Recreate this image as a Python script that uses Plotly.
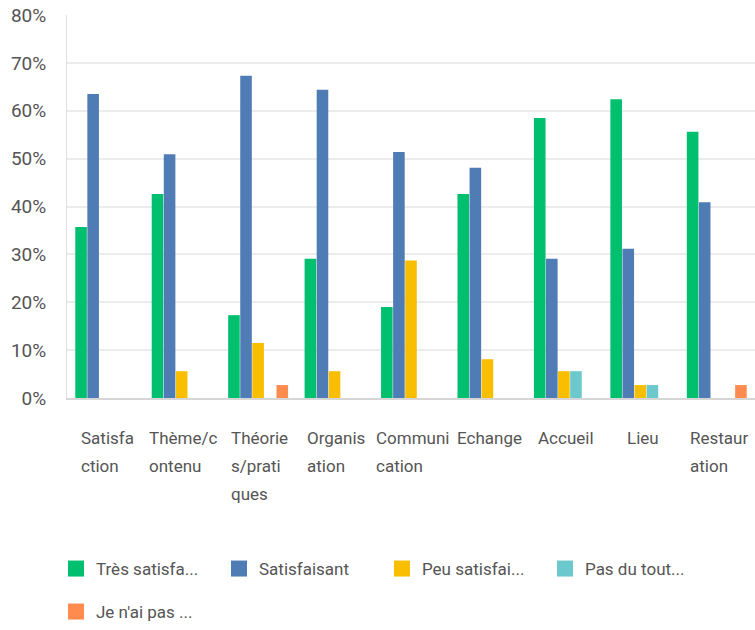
import plotly.graph_objects as go

categories = ["Satisfaction", "Thème/contenu", "Théories/pratiques", "Organisation",
              "Communication", "Echange", "Accueil", "Lieu", "Restauration"]
series_names = ["Très satisfa...", "Satisfaisant", "Peu satisfai...", "Pas du tout...", "Je n'ai pas ..."]
tres_satisfait = [35.7, 42.6, 17.3, 29.1, 19.0, 42.6, 58.5, 62.4, 55.6]
satisfaisant = [63.5, 50.9, 67.3, 64.4, 51.4, 48.1, 29.1, 31.2, 40.9]
peu_satisfait = [0, 5.6, 11.5, 5.6, 28.7, 8.1, 5.6, 2.7, 0]
pas_du_tout = [0, 0, 0, 0, 0, 0, 5.6, 2.7, 0]
je_nai_pas = [0, 0, 2.7, 0, 0, 0, 0, 0, 2.7]
colors = ["#00bf6f", "#507cb6", "#f9be00", "#6bc8cd", "#ff8b4f"]
y_ticks = [0, 10, 20, 30, 40, 50, 60, 70, 80]
y_ticklabels = [f"{v}%" for v in y_ticks]

FONT = "Roboto, sans-serif"
TXT = "#555555"
LABEL_SIZE = 17

# approximate Roboto advance widths (em) for centring left-aligned label blocks
_W = {'a': .544, 'b': .561, 'c': .523, 'd': .564, 'e': .53, 'f': .347, 'g': .561, 'h': .551,
      'i': .243, 'j': .239, 'k': .507, 'l': .243, 'm': .876, 'n': .552, 'o': .57, 'p': .561,
      'q': .568, 'r': .338, 's': .515, 't': .327, 'u': .551, 'v': .484, 'w': .751, 'x': .496,
      'y': .473, 'z': .496, 'é': .53, 'è': .53, '/': .412, 'C': .652, 'T': .611, 'O': .688,
      'R': .631, 'S': .593, 'E': .569, 'A': .652, 'L': .538}


def text_w(s, size):
    return sum(_W.get(ch, .55) for ch in s) * size


fig = go.Figure()
all_series = [tres_satisfait, satisfaisant, peu_satisfait, pas_du_tout, je_nai_pas]
for i, (name, vals, col) in enumerate(zip(series_names, all_series, colors)):
    fig.add_trace(go.Bar(x=categories, y=[v / 100 for v in vals], name=name,
                         marker=dict(color=col, line=dict(width=0)), showlegend=False,
                         legendgroup=name))
    # legend entry with a larger swatch
    fig.add_trace(go.Scatter(x=[None], y=[None], mode="markers", name=name,
                             legendgroup=name,
                             marker=dict(symbol="square", size=16, color=col),
                             legend="legend" if i < 4 else "legend2"))

# wrapped category labels (7-char chunks), block centred, lines left-aligned
annotations = []
for cat in categories:
    lines = [cat[i:i + 7] for i in range(0, len(cat), 7)]
    block_w = max(text_w(l, LABEL_SIZE) for l in lines)
    for j, line in enumerate(lines):
        annotations.append(dict(x=cat, xref="x", y=0, yref="paper", text=line,
                                showarrow=False, xanchor="left", yanchor="middle",
                                xshift=-block_w / 2, yshift=-40 - 28 * j, align="left",
                                font=dict(family=FONT, size=LABEL_SIZE, color=TXT)))

legend_common = dict(orientation="h", xanchor="left", yanchor="middle",
                     entrywidth=118, entrywidthmode="pixels", traceorder="normal",
                     font=dict(family=FONT, size=17, color=TXT),
                     itemwidth=30, bgcolor="rgba(0,0,0,0)")

fig.update_layout(
    width=755, height=630,
    margin=dict(l=67, r=0, t=15, b=232),
    plot_bgcolor="white", paper_bgcolor="white",
    barmode="group", bargap=0.21, bargroupgap=0.04,
    font=dict(family=FONT, size=17, color=TXT),
    xaxis=dict(showticklabels=False, showline=True, linecolor="#d6d6d6", linewidth=2,
               ticks="", showgrid=False),
    yaxis=dict(range=[0, 0.8], tickvals=[v / 100 for v in y_ticks], ticktext=y_ticklabels,
               showgrid=True, gridcolor="#ececec", gridwidth=1.5,
               showline=True, linecolor="#e0e0e0", linewidth=1,
               ticks="", ticklabelstandoff=16, zeroline=False,
               tickfont=dict(family=FONT, size=19, color=TXT)),
    legend=dict(x=-0.016, y=(398 - 569) / 383, **legend_common),
    legend2=dict(x=-0.016, y=(398 - 612) / 383, **legend_common),
    annotations=annotations,
)

fig.write_html("out.html")
